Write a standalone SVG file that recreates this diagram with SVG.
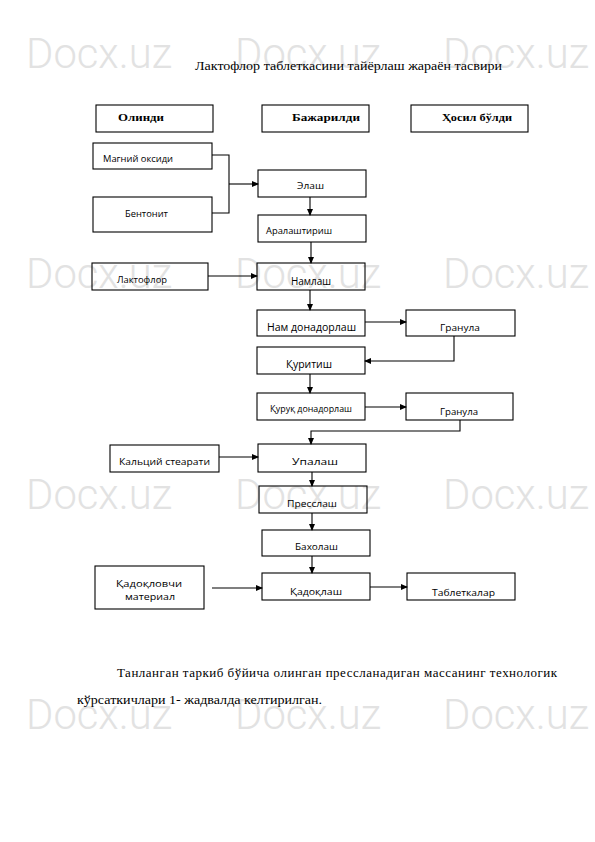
<svg xmlns="http://www.w3.org/2000/svg" width="595" height="842" viewBox="0 0 595 842">
<style>
.wm{font-family:Roboto,"Liberation Sans",sans-serif;font-size:42px;font-weight:300;fill:#e2e2e2}
.box{fill:none;stroke:#000;stroke-width:1.1}
.hd{font-family:"Liberation Serif",serif;font-weight:bold;font-size:11px;fill:#000}
.t{font-family:"Open Sans","Noto Sans",sans-serif;font-size:9.5px;fill:#000}
.tl{font-family:"Open Sans","Noto Sans",sans-serif;font-size:10.5px;fill:#000}
.ts{font-family:"Open Sans","Noto Sans",sans-serif;font-size:8.5px;fill:#000}
.body{font-family:"Liberation Serif",serif;font-size:13px;fill:#000}
.c{fill:none;stroke:#000;stroke-width:1.1}
</style>
<defs>
<marker id="ah" markerUnits="userSpaceOnUse" markerWidth="7" markerHeight="6" refX="6" refY="3" orient="auto">
<path d="M0,0 L7,3 L0,6 Z" fill="#000"/>
</marker>
</defs>
<rect width="595" height="842" fill="#fff"/>
<g id="watermark">
<text class="wm" x="26" y="68" textLength="146" lengthAdjust="spacingAndGlyphs">Docx.uz</text>
<text class="wm" x="235" y="68" textLength="146" lengthAdjust="spacingAndGlyphs">Docx.uz</text>
<text class="wm" x="443" y="68" textLength="146" lengthAdjust="spacingAndGlyphs">Docx.uz</text>
<text class="wm" x="26" y="288" textLength="146" lengthAdjust="spacingAndGlyphs">Docx.uz</text>
<text class="wm" x="235" y="288" textLength="146" lengthAdjust="spacingAndGlyphs">Docx.uz</text>
<text class="wm" x="443" y="288" textLength="146" lengthAdjust="spacingAndGlyphs">Docx.uz</text>
<text class="wm" x="26" y="509" textLength="146" lengthAdjust="spacingAndGlyphs">Docx.uz</text>
<text class="wm" x="235" y="509" textLength="146" lengthAdjust="spacingAndGlyphs">Docx.uz</text>
<text class="wm" x="443" y="509" textLength="146" lengthAdjust="spacingAndGlyphs">Docx.uz</text>
<text class="wm" x="26" y="729" textLength="146" lengthAdjust="spacingAndGlyphs">Docx.uz</text>
<text class="wm" x="235" y="729" textLength="146" lengthAdjust="spacingAndGlyphs">Docx.uz</text>
<text class="wm" x="443" y="729" textLength="146" lengthAdjust="spacingAndGlyphs">Docx.uz</text>
</g>
<text id="title" class="body" x="195" y="70" textLength="307" lengthAdjust="spacingAndGlyphs">Лактофлор таблеткасини тайёрлаш жараён тасвири</text>
<g id="h1"><rect class="box" x="96" y="105" width="117" height="27"/><text class="hd" x="118" y="121" textLength="46" lengthAdjust="spacingAndGlyphs">Олинди</text></g>
<g id="h2"><rect class="box" x="262" y="105" width="107" height="27"/><text class="hd" x="292" y="121" textLength="68" lengthAdjust="spacingAndGlyphs">Бажарилди</text></g>
<g id="h3"><rect class="box" x="411" y="105" width="117" height="27"/><text class="hd" x="442" y="121" textLength="70" lengthAdjust="spacingAndGlyphs">Ҳосил бўлди</text></g>
<g id="magniy"><rect class="box" x="93" y="143" width="119" height="26"/><text class="t" x="103" y="162" textLength="70" lengthAdjust="spacingAndGlyphs">Магний оксиди</text></g>
<g id="bentonit"><rect class="box" x="93" y="197" width="119" height="35"/><text class="t" x="125" y="217" textLength="43" lengthAdjust="spacingAndGlyphs">Бентонит</text></g>
<g id="elash"><rect class="box" x="258" y="170" width="108" height="27"/><text class="t" x="297" y="189" textLength="27" lengthAdjust="spacingAndGlyphs">Элаш</text></g>
<g id="aralash"><rect class="box" x="258" y="215" width="108" height="27"/><text class="t" x="266" y="234" textLength="66" lengthAdjust="spacingAndGlyphs">Аралаштириш</text></g>
<g id="laktoflor"><rect class="box" x="92" y="263" width="116" height="27"/><text class="t" x="117" y="283" textLength="50" lengthAdjust="spacingAndGlyphs">Лактофлор</text></g>
<g id="namlash"><rect class="box" x="257" y="263" width="108" height="27"/><text class="tl" x="291" y="285" textLength="40" lengthAdjust="spacingAndGlyphs">Намлаш</text></g>
<g id="namdon"><rect class="box" x="257" y="310" width="108" height="26"/><text class="tl" x="267" y="331" textLength="89" lengthAdjust="spacingAndGlyphs">Нам донадорлаш</text></g>
<g id="granula1"><rect class="box" x="406" y="310" width="109" height="26"/><text class="t" x="440" y="331" textLength="40" lengthAdjust="spacingAndGlyphs">Гранула</text></g>
<g id="quritish"><rect class="box" x="257" y="347" width="108" height="27"/><text class="tl" x="286" y="368" textLength="46" lengthAdjust="spacingAndGlyphs">Қуритиш</text></g>
<g id="quruqdon"><rect class="box" x="257" y="393" width="108" height="27"/><text class="ts" x="270" y="412" textLength="82" lengthAdjust="spacingAndGlyphs">Қуруқ донадорлаш</text></g>
<g id="granula2"><rect class="box" x="406" y="393" width="107" height="27"/><text class="t" x="440" y="415" textLength="38" lengthAdjust="spacingAndGlyphs">Гранула</text></g>
<g id="kalciy"><rect class="box" x="110" y="445" width="109" height="27"/><text class="t" x="119" y="465" textLength="91" lengthAdjust="spacingAndGlyphs">Кальций стеарати</text></g>
<g id="upalash"><rect class="box" x="258" y="444" width="108" height="28"/><text class="t" x="292" y="465" textLength="46" lengthAdjust="spacingAndGlyphs">Упалаш</text></g>
<g id="presslash"><rect class="box" x="259" y="486" width="108" height="27"/><text class="t" x="287" y="507" textLength="50" lengthAdjust="spacingAndGlyphs">Пресслаш</text></g>
<g id="baholash"><rect class="box" x="262" y="530" width="108" height="26"/><text class="t" x="295" y="550" textLength="43" lengthAdjust="spacingAndGlyphs">Бахолаш</text></g>
<g id="qadoqlovchi"><rect class="box" x="95" y="566" width="109" height="43"/><text class="t" x="116" y="587" textLength="66" lengthAdjust="spacingAndGlyphs">Қадоқловчи</text><text class="t" x="125" y="600" textLength="50" lengthAdjust="spacingAndGlyphs">материал</text></g>
<g id="qadoqlash"><rect class="box" x="262" y="573" width="108" height="27"/><text class="t" x="290" y="595" textLength="52" lengthAdjust="spacingAndGlyphs">Қадоқлаш</text></g>
<g id="tabletkalar"><rect class="box" x="407" y="573" width="108" height="27"/><text class="t" x="432" y="596" textLength="63" lengthAdjust="spacingAndGlyphs">Таблеткалар</text></g>
<g id="connectors">
<path class="c" d="M212,155 H229 V213 H212"/>
<path class="c" d="M229,184 H258" marker-end="url(#ah)"/>
<path class="c" d="M310,197 V215" marker-end="url(#ah)"/>
<path class="c" d="M311,242 V263" marker-end="url(#ah)"/>
<path class="c" d="M208,276 H257" marker-end="url(#ah)"/>
<path class="c" d="M310,290 V310" marker-end="url(#ah)"/>
<path class="c" d="M365,322 H406" marker-end="url(#ah)"/>
<path class="c" d="M454,336 V361 H365" marker-end="url(#ah)"/>
<path class="c" d="M310,374 V393" marker-end="url(#ah)"/>
<path class="c" d="M365,407 H406" marker-end="url(#ah)"/>
<path class="c" d="M460,420 V431 H311 V444" marker-end="url(#ah)"/>
<path class="c" d="M219,457 H258" marker-end="url(#ah)"/>
<path class="c" d="M312,472 V486" marker-end="url(#ah)"/>
<path class="c" d="M312,513 V530" marker-end="url(#ah)"/>
<path class="c" d="M312,556 V573" marker-end="url(#ah)"/>
<path class="c" d="M212,588 H262" marker-end="url(#ah)"/>
<path class="c" d="M370,587 H407" marker-end="url(#ah)"/>
</g>
<g id="paragraph">
<text class="body" x="117" y="677" textLength="440" lengthAdjust="spacing">Танланган таркиб бўйича олинган прессланадиган массанинг технологик</text>
<text class="body" x="77" y="704" textLength="245" lengthAdjust="spacingAndGlyphs">кўрсаткичлари 1- жадвалда келтирилган.</text>
</g>
</svg>
